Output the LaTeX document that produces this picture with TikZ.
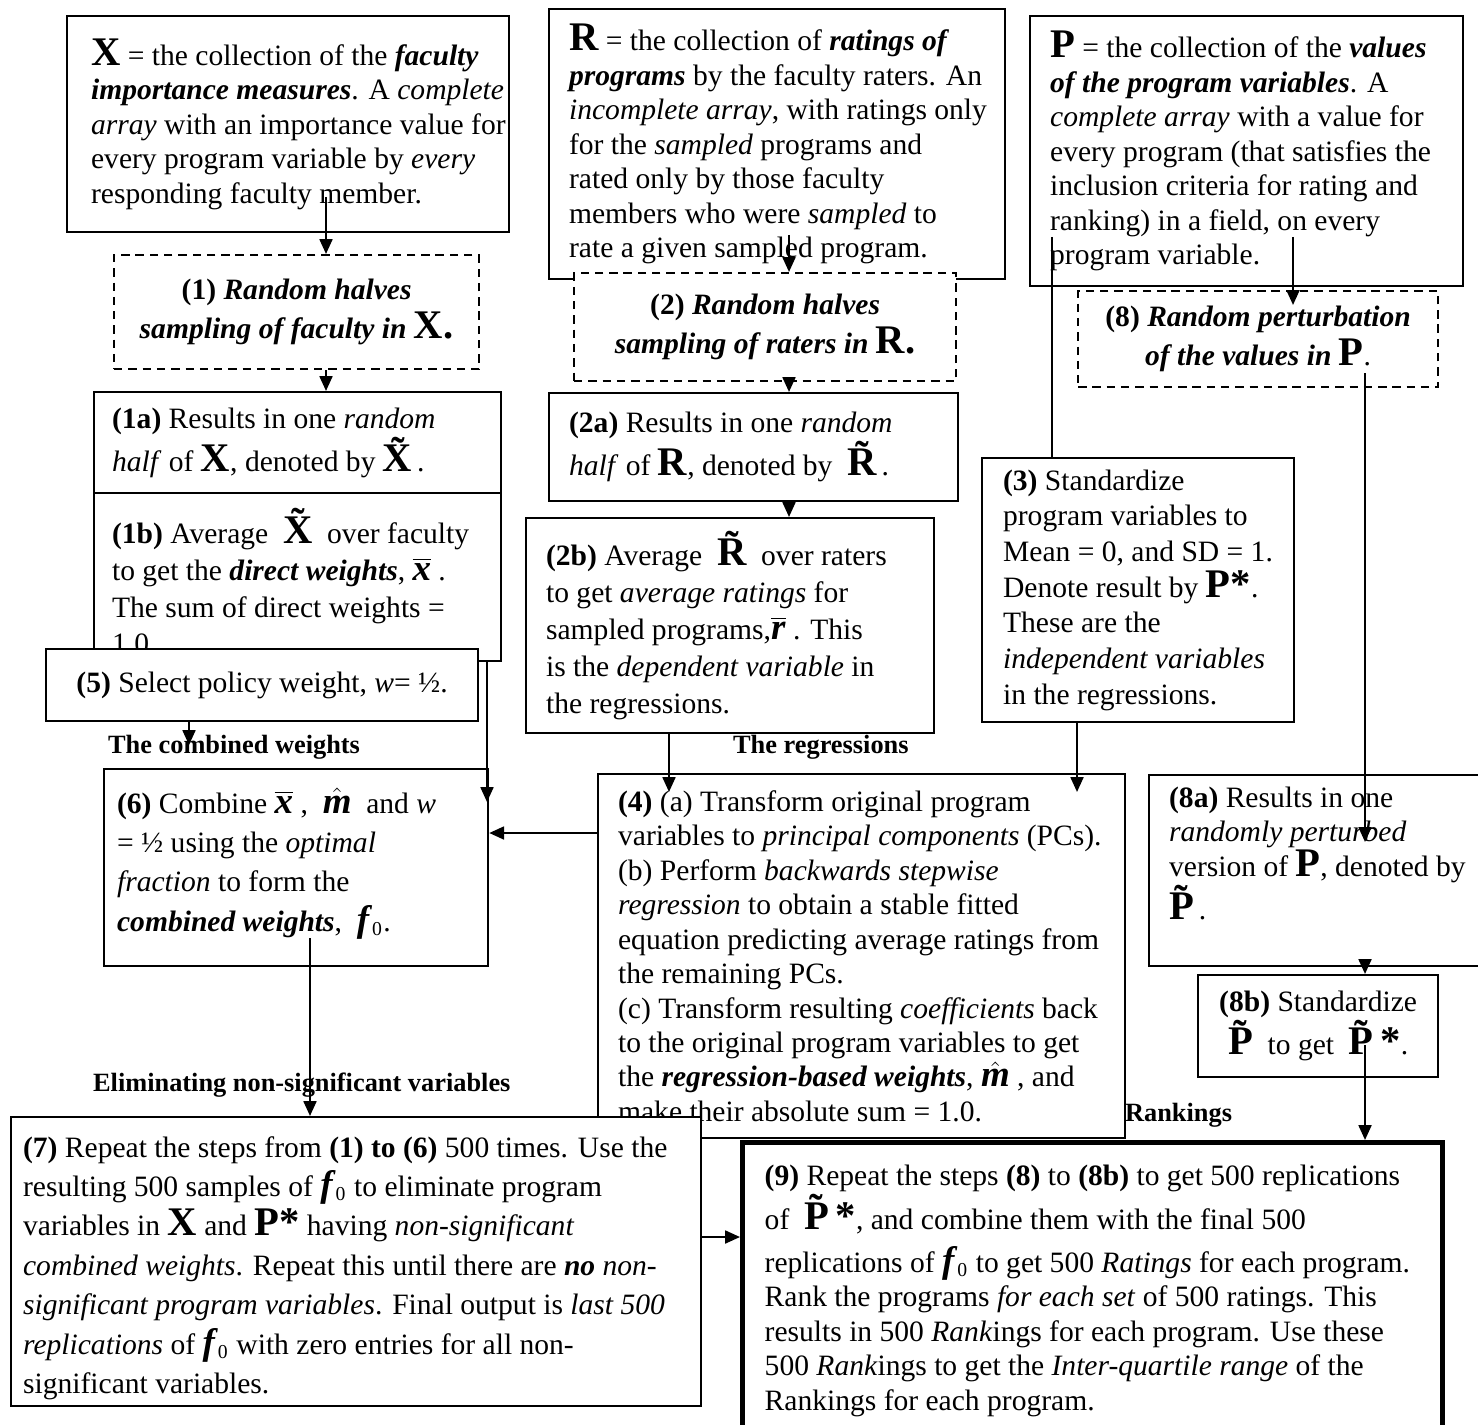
\documentclass[tikz,border=0pt]{standalone}
\usepackage{fontspec}
\setmainfont{Liberation Serif}
\usetikzlibrary{arrows.meta}

\newcommand{\pxlen}{0.406pt}
\newcommand{\bi}[1]{\textbf{\textit{#1}}}
\newcommand{\bigsym}[1]{{\fontsize{16.5}{14}\selectfont\bfseries\upshape #1}}
\newcommand{\xbar}{\ensuremath{\overline{\mbox{\fontsize{15}{14}\selectfont\bi{x}}}}}
\newcommand{\rbar}{\ensuremath{\overline{\mbox{\fontsize{15}{14}\selectfont\bi{r}}}}}
\newcommand{\mhat}{\ensuremath{\hat{\mbox{\fontsize{15}{14}\selectfont\bi{m}}}}}
\newcommand{\fzero}{{\fontsize{15}{14}\selectfont\bi{f}}\textsubscript{0}}

\begin{document}
\begin{tikzpicture}[
        x = \pxlen, y = -\pxlen,
        line width = 0.9pt,
        > = {Triangle[length=6pt,width=5.2pt]},
      box/.style = {rectangle, draw, fill=white, anchor=north west, align=left,
                    inner xsep=1pt, inner ysep=0pt, font=\fontsize{12}{14}\selectfont},
     bsize/.style n args = {3}{text width=#1*\pxlen-2pt, minimum height=#2*\pxlen,
                    execute at begin node={\spaceskip=0pt\xspaceskip=0pt
                    \pgfmathsetlength\leftskip{#3*\pxlen-1pt}}},
     topal/.style 2 args = {text height=#1*\pxlen, text depth=#2*\pxlen},
     dsize/.style 2 args = {minimum width=#1*\pxlen, minimum height=#2*\pxlen},
      dbox/.style = {rectangle, draw, dashed, dash pattern=on 3.4pt off 2.4pt, fill=white,
                    anchor=north west, align=center, inner sep=1pt,
                    font=\fontsize{12}{16}\selectfont\bfseries},
      cbox/.style = {rectangle, draw, fill=white, anchor=north west, align=center,
                    inner sep=1pt, font=\fontsize{12}{15}\selectfont},
       lbl/.style = {anchor=west, inner sep=0pt, font=\fontsize{10.7}{12}\selectfont\bfseries}
                        ]
\fill[white] (0,0) rectangle (1478,1424);
\useasboundingbox (0,0) rectangle (1478,1424);
\clip (0,0) rectangle (1478,1424);

\node (X) [box, bsize={442}{216}{24}] at (66,15)
  {\bigsym{X} = the collection of the \bi{faculty}\\
   \bi{importance measures}. A \textit{complete}\\
   \textit{array} with an importance value for\\
   every program variable by \textit{every}\\
   responding faculty member.};
\node (R) [box, bsize={456}{270}{20}] at (548,8)
  {\bigsym{R} = the collection of \bi{ratings of}\\
   \bi{programs} by the faculty raters. An\\
   \textit{incomplete array}, with ratings only\\
   for the \textit{sampled} programs and\\
   rated only by those faculty\\
   members who were \textit{sampled} to\\
   rate a given sampled program.};
\node (d2) [dbox, dsize={382}{108}] at (573,272)
  {(2) \textit{Random halves}\\ \textit{sampling of raters in} \bigsym{R.}};
\node (P) [box, bsize={433}{270}{20}] at (1029,15)
  {\bigsym{P} = the collection of the \bi{values}\\
   \bi{of the program variables}. A\\
   \textit{complete array} with a value for\\
   every program (that satisfies the\\
   inclusion criteria for rating and\\
   ranking) in a field, on every\\
   program variable.};
\node (d8) [dbox, dsize={360}{96}] at (1077,290)
  {(8) \textit{Random perturbation}\\ \textit{of the values in} \bigsym{P}\textmd{.}};
\node (d1) [dbox, dsize={365}{114}] at (113,254)
  {(1) \textit{Random halves}\\ \textit{sampling of faculty in} \bigsym{X.}};

\node (a1) [box, bsize={407}{101}{18}] at (93,391)
  {\textbf{(1a)} Results in one \textit{random}\\
   \textit{half} of \bigsym{X}, denoted by \bigsym{\~X}\,.};
\node (b1) [box, bsize={407}{0}{18}, topal={50}{118}, font=\fontsize{12}{15}\selectfont] at (93,492)
  {\textbf{(1b)} Average \ \bigsym{\~X} \ over faculty\\
   to get the \bi{direct weights}, \xbar\ .\\
   The sum of direct weights =\\
   1.0};
\node (p5) [cbox, dsize={432}{72}] at (45,648)
  {\textbf{(5)} Select policy weight, \textit{w}= ½.};

\node (a2) [box, bsize={409}{108}{20}] at (548,392)
  {\textbf{(2a)} Results in one \textit{random}\\
   \textit{half} of \bigsym{R}, denoted by \ \bigsym{\~R}\,.};
\node (b2) [box, bsize={408}{215}{20}, font=\fontsize{12}{15}\selectfont] at (525,517)
  {\textbf{(2b)} Average \ \bigsym{\~R} \ over raters\\
   to get \textit{average ratings} for\\
   sampled programs,\rbar\ . This\\
   is the \textit{dependent variable} in\\
   the regressions.};
\node (s3) [box, bsize={312}{264}{21}, font=\fontsize{12}{14.5}\selectfont] at (981,457)
  {\textbf{(3)} Standardize\\
   program variables to\\
   Mean = 0, and SD = 1.\\
   Denote result by \bigsym{P*}.\\
   These are the\\
   \textit{independent variables}\\
   in the regressions.};

\node (c6) [box, bsize={384}{0}{13}, topal={44}{153}, font=\fontsize{12}{16}\selectfont] at (103,768)
  {\textbf{(6)} Combine \xbar\ , \ \mhat\ \ and \textit{w}\\
   = ½ using the \textit{optimal}\\
   \textit{fraction} to form the\\
   \bi{combined weights}, \ \fzero.};
\node (r4) [box, bsize={527}{0}{20}, topal={37}{327}] at (597,773)
  {\textbf{(4)} (a) Transform original program\\
   variables to \textit{principal components} (PCs).\\
   (b) Perform \textit{backwards stepwise}\\
   \textit{regression} to obtain a stable fitted\\
   equation predicting average ratings from\\
   the remaining PCs.\\
   (c) Transform resulting \textit{coefficients} back\\
   to the original program variables to get\\
   the \bi{regression-based weights}, \mhat\ , and\\
   make their absolute sum = 1.0.};
\node (r7) [box, bsize={690}{0}{12}, topal={40}{249}, font=\fontsize{12}{16}\selectfont] at (10,1116)
  {\textbf{(7)} Repeat the steps from \textbf{(1) to (6)} 500 times. Use the\\
   resulting 500 samples of \fzero\ to eliminate program\\
   variables in \bigsym{X} and \bigsym{P*} having \textit{non-significant}\\
   \textit{combined weights}. Repeat this until there are \bi{no} \textit{non-}\\
   \textit{significant program variables}. Final output is \textit{last 500}\\
   \textit{replications} of \fzero\ with zero entries for all non-\\
   significant variables.};

\node (a8) [box, bsize={342}{0}{20}, topal={32}{159}] at (1148,774)
  {\textbf{(8a)} Results in one\\
   \textit{randomly perturbed}\\
   version of \bigsym{P}, denoted by\\
   \bigsym{\~P}\,.};
\node (b8) [cbox, dsize={240}{102}] at (1197,974)
  {\textbf{(8b)} Standardize\\ \bigsym{\~P} \ to get \ \bigsym{\~P\,*}.};
\node (r9) [box, bsize={700}{0}{22}, topal={43}{267}, line width=2.2pt] at (740,1140)
  {\textbf{(9)} Repeat the steps \textbf{(8)} to \textbf{(8b)} to get 500 replications\\
   of \ \bigsym{\~P\,*}, and combine them with the final 500\\[3.5pt]
   replications of \fzero\ to get 500 \textit{Ratings} for each program.\\
   Rank the programs \textit{for each set} of 500 ratings. This\\
   results in 500 \textit{Rank}ings for each program. Use these\\
   500 \textit{Rank}ings to get the \textit{Inter-quartile range} of the\\
   Rankings for each program.};

\node (lcomb) [lbl] at (107,747) {The combined weights};
\node (lreg)  [lbl] at (732,747) {The regressions};
\node (lelim) [lbl] at (92,1085) {Eliminating non-significant variables};
\node (lrank) [lbl] at (1124,1115) {Rankings};

\coordinate (cX)  at (326,197);
\coordinate (cR)  at (789,235);
\coordinate (cP)  at (1293,237);
\coordinate (tP)  at (1293,305);
\coordinate (cS)  at (1052,237);
\coordinate (c8)  at (1365,373);
\coordinate (t8)  at (1365,842);
\coordinate (c8b) at (1365,1045);
\coordinate (t4a) at (669,792);
\coordinate (t4b) at (1077,792);
\coordinate (h4)  at (597,833);
\coordinate (t6)  at (487,802);
\coordinate (t5)  at (189,745);
\coordinate (c67) at (310,938);
\coordinate (h7)  at (700,1237);

\draw[->] (cX) -- (cX |- d1.north);
\draw[->] (cX |- d1.south) -- (cX |- a1.north);
\draw[->] (cR) -- (cR |- d2.north);
\draw[->] (cR |- d2.south) -- (cR |- a2.north);
\draw[->] (cR |- a2.south) -- (cR |- b2.north);
\draw[->] (cP) -- (tP);
\draw (cS) -- (cS |- s3.north);
\draw[->] (c8) -- (t8);
\draw[->] (c8 |- a8.south) -- (c8 |- b8.north);
\draw[->] (c8b) -- (c8b |- r9.north);
\draw[->] (b2.south -| t4a) -- (t4a);
\draw[->] (s3.south -| t4b) -- (t4b);
\draw[->] (h4) -- (h4 -| c6.east);
\draw[->] (b1.south -| t6) -- (t6);
\draw[->] (p5.south -| t5) -- (t5);
\draw[->] (c67) -- (c67 |- r7.north);
\draw[->] (r7.east |- h7) -- (h7 -| r9.west);
\end{tikzpicture}
\end{document}
